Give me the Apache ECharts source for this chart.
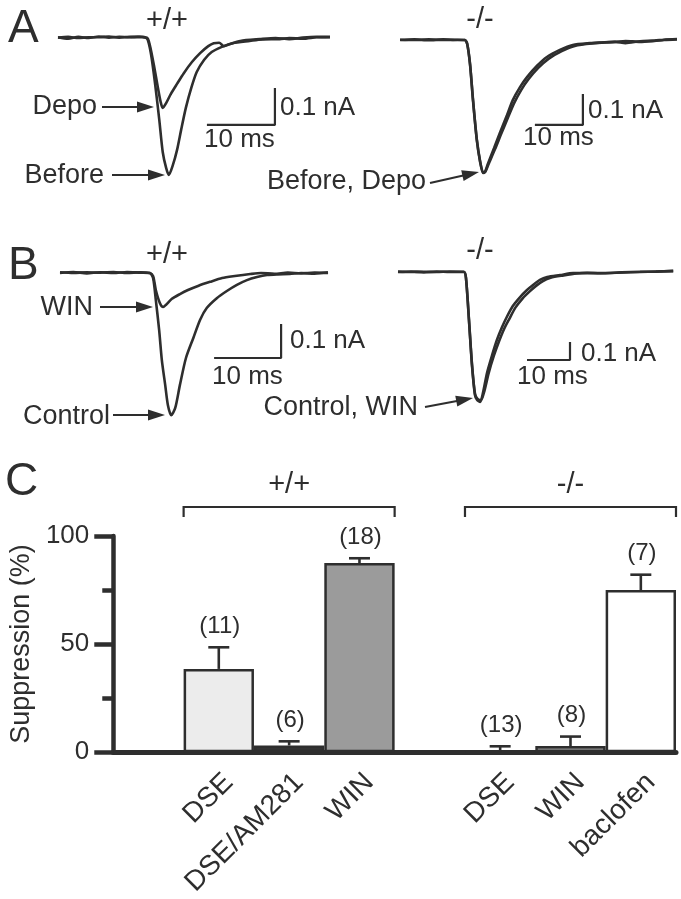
<!DOCTYPE html>
<html>
<head>
<meta charset="utf-8">
<script src="https://cdn.jsdelivr.net/npm/echarts@6/dist/echarts.min.js"></script>
<style>
html,body{margin:0;padding:0;background:#fff;}
#chart{width:681px;height:899px;}
</style>
</head>
<body>
<div id="chart"></div>
<script>
// ---------------- DATA ----------------
// Panel A, +/+ : time (ms), current (nA)
var aWtBefore = [[0,0.002],[1.5,-0.002],[3,0.003],[4.5,0],[6,0.004],[7.5,0.001],[9,0.003],[10.5,0.002],[12,0.004],[12.8,0.002],[13.2,-0.005],[13.7,-0.046],[14.3,-0.127],[14.9,-0.222],[15.4,-0.308],[15.9,-0.351],[16.3,-0.37],[16.9,-0.343],[17.5,-0.303],[18.1,-0.249],[18.8,-0.189],[19.6,-0.135],[20.4,-0.092],[21.5,-0.059],[22.6,-0.038],[24.1,-0.024],[25.7,-0.014],[28.2,-0.008],[30,-0.004],[32.6,-0.003],[34,0],[36,-0.002],[38,0.002],[40,0.003]];
var aWtDepo = [[0,0.001],[1.5,0.003],[3,0],[4.5,0.002],[6,0.002],[7.5,0.004],[9,0.001],[10.5,0.003],[12,0.002],[13.1,0.001],[13.5,-0.019],[14.1,-0.073],[14.7,-0.135],[15.1,-0.173],[15.4,-0.189],[15.9,-0.176],[16.6,-0.151],[17.5,-0.124],[18.5,-0.095],[19.7,-0.065],[20.9,-0.041],[22.1,-0.022],[22.9,-0.014],[23.7,-0.013],[24.4,-0.022],[25.3,-0.016],[26.8,-0.008],[29.7,-0.003],[32,0],[34,-0.003],[36,0.001],[38,0.003],[40,0.002]];
// Panel A, -/-
var aKoBefore = [[0,0],[3,0.002],[6,-0.001],[9,0.002],[12,0],[13.5,0],[14,-0.013],[14.6,-0.081],[15.2,-0.194],[16,-0.323],[16.7,-0.394],[17.3,-0.429],[17.7,-0.426],[18.3,-0.4],[19.6,-0.348],[20.8,-0.3],[22.3,-0.242],[23.5,-0.194],[25,-0.152],[26.5,-0.119],[28.5,-0.084],[30.6,-0.055],[33.3,-0.032],[36,-0.016],[39.6,-0.01],[42,-0.008],[44.8,-0.006],[47,-0.01],[50,-0.004],[53,-0.002],[55,0.001],[57.7,0.003]];
var aKoDepo = [[0,0.001],[3,0],[6,0.002],[9,0],[12,0.001],[13.5,0],[14,-0.012],[14.6,-0.078],[15.2,-0.19],[16,-0.32],[16.7,-0.392],[17.3,-0.427],[17.8,-0.424],[18.4,-0.402],[19.8,-0.352],[21,-0.306],[22.5,-0.25],[23.8,-0.203],[25.3,-0.16],[26.8,-0.126],[28.8,-0.09],[31,-0.06],[33.7,-0.036],[36.4,-0.019],[40,-0.011],[44.8,-0.006],[47,-0.003],[50,-0.006],[53,-0.003],[55,0],[57.7,0.002]];
// Panel B, +/+
var bWtControl = [[0,0],[2,0.003],[4,-0.001],[6,0.002],[8,0],[10,0.003],[12,0.001],[13.4,0],[13.9,-0.015],[14.3,-0.079],[14.8,-0.168],[15.2,-0.256],[15.7,-0.329],[16.1,-0.388],[16.6,-0.418],[17.2,-0.397],[17.9,-0.329],[18.8,-0.25],[19.9,-0.191],[20.9,-0.138],[21.9,-0.103],[23.4,-0.074],[24.9,-0.053],[26.4,-0.035],[27.9,-0.021],[29.4,-0.012],[30.9,-0.006],[32.5,-0.004],[34.3,-0.003],[36,0],[38,-0.002],[40,0.002]];
var bWtWin = [[0,0.002],[2,0],[4,0.002],[6,0.001],[8,0.003],[10,0],[12,0.002],[13.4,0],[13.9,-0.009],[14.3,-0.05],[14.9,-0.088],[15.4,-0.1],[15.8,-0.094],[16.7,-0.076],[17.9,-0.062],[19.1,-0.05],[20.6,-0.038],[22.4,-0.026],[24.2,-0.015],[26.1,-0.009],[28.4,-0.003],[30,0],[32,-0.002],[34,0.001],[36,-0.001],[38,0.001],[40,0]];
// Panel B, -/-
var bKoControl = [[0,0],[3,0.003],[6,-0.002],[9,0.002],[12,0],[15.3,0],[15.8,-0.033],[16.5,-0.267],[17.2,-0.517],[17.9,-0.683],[18.4,-0.711],[19.1,-0.722],[19.8,-0.667],[20.7,-0.561],[21.9,-0.461],[23,-0.378],[24.2,-0.306],[25.3,-0.25],[26.7,-0.189],[28.4,-0.139],[30,-0.1],[31.4,-0.072],[33,-0.044],[34.7,-0.028],[37.7,-0.017],[40.7,-0.006],[44,-0.006],[47,-0.006],[52,-0.003],[56.3,0],[60,0.003],[64,0.006]];
var bKoWin = [[0,0.002],[3,0],[6,0.001],[9,0],[12,0.002],[15.3,0.001],[15.8,-0.03],[16.5,-0.262],[17.2,-0.51],[17.9,-0.676],[18.5,-0.705],[19.3,-0.712],[20.1,-0.66],[21.1,-0.56],[22.3,-0.465],[23.5,-0.385],[24.7,-0.315],[25.9,-0.26],[27.3,-0.198],[29,-0.146],[30.7,-0.106],[32.1,-0.077],[33.7,-0.05],[35.5,-0.032],[38.5,-0.019],[41.5,-0.008],[44,-0.004],[47,-0.007],[52,-0.002],[56.3,0.001],[60,0.002],[64,0.005]];

// Panel C
var categories = ['', 'DSE', 'DSE/AM281', 'WIN', '', 'DSE', 'WIN', 'baclofen'];
var suppression = [null, 38.5, 3.1, 87.5, null, 0.3, 2.8, 75.0];
var sem = [null, 10.0, 1.9, 2.2, null, 2.4, 4.4, 7.1];
var nCells = [null, '(11)', '(6)', '(18)', null, '(13)', '(8)', '(7)'];
var yTicks = [0, 50, 100];

// ---------------- STYLE / LAYOUT ----------------
var FONT = '"Liberation Sans", Arial, Helvetica, sans-serif';
var INK = '#2e2e2e';
var barColors = [null, '#ececec', '#333333', '#9b9b9b', null, '#ffffff', '#8c8c8c', '#ffffff'];

var traceGrids = [
  {left: 58,  top: 26.9,  width: 272,   height: 159.1, xmax: 40, ymin: -0.40, ymax: 0.03},
  {left: 400, top: 30.7,  width: 278.4, height: 148.8, xmax: 58, ymin: -0.45, ymax: 0.03},
  {left: 60,  top: 262.8, width: 268,   height: 159.8, xmax: 40, ymin: -0.44, ymax: 0.03},
  {left: 398, top: 263,   width: 275.2, height: 144,   xmax: 64, ymin: -0.75, ymax: 0.05}
];
var traces = [
  {grid: 0, data: aWtBefore}, {grid: 0, data: aWtDepo},
  {grid: 1, data: aKoBefore}, {grid: 1, data: aKoDepo},
  {grid: 2, data: bWtControl}, {grid: 2, data: bWtWin},
  {grid: 3, data: bKoControl}, {grid: 3, data: bKoWin}
];
// scale bars: corner position (ms, nA), 10 ms x 0.1 nA
var scaleBars = [
  {grid: 0, t: 31.9, i: -0.235},
  {grid: 1, t: 38.1, i: -0.274},
  {grid: 2, t: 33.0, i: -0.25},
  {grid: 3, t: 40.0, i: -0.489}
];

var chart = echarts.init(document.getElementById('chart'), null, {renderer: 'canvas'});

var grids = [], xAxes = [], yAxes = [], series = [];
traceGrids.forEach(function (g, k) {
  grids.push({left: g.left, top: g.top, width: g.width, height: g.height, containLabel: false});
  xAxes.push({type: 'value', gridIndex: k, min: 0, max: g.xmax, show: false});
  yAxes.push({type: 'value', gridIndex: k, min: g.ymin, max: g.ymax, show: false});
});
traces.forEach(function (tr) {
  series.push({
    type: 'line', xAxisIndex: tr.grid, yAxisIndex: tr.grid, data: tr.data,
    showSymbol: false, symbol: 'none', clip: false, silent: true, smooth: 0.25,
    lineStyle: {color: INK, width: 2.6}
  });
});
scaleBars.forEach(function (s) {
  series.push({
    type: 'line', xAxisIndex: s.grid, yAxisIndex: s.grid,
    data: [[s.t - 10, s.i], [s.t, s.i], [s.t, s.i + 0.1]],
    showSymbol: false, symbol: 'none', clip: false, silent: true,
    lineStyle: {color: INK, width: 2.2}
  });
});

// bar chart grid
grids.push({left: 108, top: 536, width: 568, height: 227, containLabel: false});
xAxes.push({
  type: 'category', gridIndex: 4, data: categories,
  axisLine: {show: true, lineStyle: {color: INK, width: 5}},
  axisTick: {show: false},
  axisLabel: {
    interval: 0, rotate: 45, margin: 16, fontFamily: FONT, fontSize: 28, color: INK,
    align: 'right', verticalAlign: 'top', lineHeight: 28
  }
});
yAxes.push({
  type: 'value', gridIndex: 4, min: 0, max: 100, interval: 50,
  name: 'Suppression (%)', nameLocation: 'middle', nameGap: 75,
  nameTextStyle: {fontFamily: FONT, fontSize: 27, color: INK},
  axisLine: {show: true, lineStyle: {color: INK, width: 4.5}},
  axisTick: {show: true, length: 19, lineStyle: {color: INK, width: 4.5}},
  minorTick: {show: true, splitNumber: 2, length: 11, lineStyle: {color: INK, width: 4.5}},
  splitLine: {show: false}, minorSplitLine: {show: false},
  axisLabel: {margin: 24, fontFamily: FONT, fontSize: 26, color: INK,
    formatter: function (v) { return yTicks.indexOf(v) >= 0 ? String(v) : ''; }}
});
series.push({
  type: 'bar', xAxisIndex: 4, yAxisIndex: 4, barWidth: '100%', z: 3,
  data: suppression.map(function (v, i) {
    return v === null ? null : {value: v, itemStyle: {color: barColors[i], borderColor: INK, borderWidth: 2.5}};
  })
});
series.push({
  type: 'custom', xAxisIndex: 4, yAxisIndex: 4, z: 4,
  data: suppression.map(function (v, i) { return v === null ? [i, '-', '-'] : [i, v, v + sem[i]]; }),
  renderItem: function (params, api) {
    var i = api.value(0);
    if (suppression[i] === null) return null;
    var base = api.coord([i, api.value(1)]);
    var top = api.coord([i, api.value(2)]);
    var cw = 10.5;
    return {type: 'group', children: [
      {type: 'line', shape: {x1: base[0], y1: base[1], x2: top[0], y2: top[1]}, style: {stroke: INK, lineWidth: 2.6}},
      {type: 'line', shape: {x1: top[0] - cw, y1: top[1], x2: top[0] + cw, y2: top[1]}, style: {stroke: INK, lineWidth: 2.6}},
      {type: 'text', x: top[0] + 1, y: top[1] - 21, style: {text: nCells[i], font: '24px ' + FONT, fill: INK, align: 'center', verticalAlign: 'middle', textAlign: 'center', textVerticalAlign: 'middle'}}
    ]};
  }
});

// ---------------- ANNOTATIONS ----------------
function txt(s, x, y, size, align) {
  return {type: 'text', x: x, y: y, silent: true,
    style: {text: s, font: size + 'px ' + FONT, fill: INK, align: align || 'left', verticalAlign: 'middle', textAlign: align || 'left', textVerticalAlign: 'middle'}};
}
function arrow(x1, y1, x2, y2) {
  var dx = x2 - x1, dy = y2 - y1, L = Math.sqrt(dx * dx + dy * dy), ux = dx / L, uy = dy / L;
  var hl = 17, hw = 5.5;
  var bx = x2 - ux * hl, by = y2 - uy * hl;
  return [
    {type: 'line', silent: true, shape: {x1: x1, y1: y1, x2: bx + ux * 2, y2: by + uy * 2}, style: {stroke: INK, lineWidth: 2.2}},
    {type: 'polygon', silent: true, shape: {points: [[x2, y2], [bx - uy * hw, by + ux * hw], [bx + uy * hw, by - ux * hw]]}, style: {fill: INK}}
  ];
}
var labels = [
  txt('A', 8, 29, 46), txt('+/+', 167, 21, 29, 'center'), txt('-/-', 480, 20, 29, 'center'),
  txt('Depo', 97, 107, 27, 'right'), txt('Before', 104, 176, 27, 'right'),
  txt('0.1 nA', 280, 108, 26), txt('10 ms', 204, 140, 26),
  txt('0.1 nA', 588, 111, 26), txt('10 ms', 523, 138, 26),
  txt('Before, Depo', 426, 182, 27, 'right'),
  txt('B', 8, 266, 46), txt('+/+', 167, 255, 29, 'center'), txt('-/-', 480, 251, 29, 'center'),
  txt('WIN', 93, 308, 27, 'right'), txt('Control', 110, 417, 27, 'right'),
  txt('0.1 nA', 290, 341, 26), txt('10 ms', 212, 377, 26),
  txt('0.1 nA', 581, 354, 26), txt('10 ms', 517, 377, 26),
  txt('Control, WIN', 418, 408, 27, 'right'),
  txt('C', 5, 482, 46)
];
var arrows = [].concat(
  arrow(102, 107, 154, 107), arrow(112, 175, 165, 175),
  arrow(430, 183, 479, 172),
  arrow(100, 307, 153, 307), arrow(113, 415, 165, 415),
  arrow(425, 407, 473, 398)
);

chart.setOption({
  animation: false,
  backgroundColor: '#ffffff',
  grid: grids, xAxis: xAxes, yAxis: yAxes, series: series,
  graphic: {elements: labels.concat(arrows)}
});

// genotype brackets above groups, positioned from the category axis
function bracket(i0, i1, label) {
  var c0 = chart.convertToPixel({xAxisIndex: 4, yAxisIndex: 4}, [i0, 100]);
  var c1 = chart.convertToPixel({xAxisIndex: 4, yAxisIndex: 4}, [i1, 100]);
  var cNext = chart.convertToPixel({xAxisIndex: 4, yAxisIndex: 4}, [i0 + 1, 100]);
  var half = (cNext[0] - c0[0]) / 2;
  var xl = c0[0] - half, xr = c1[0] + half, yb = c0[1] - 29;
  return [
    {type: 'polyline', silent: true, shape: {points: [[xl, yb + 10], [xl, yb], [xr, yb], [xr, yb + 10]]}, style: {stroke: INK, lineWidth: 2.2, fill: null}},
    txt(label, (xl + xr) / 2, yb - 22, 29, 'center')
  ];
}
chart.setOption({graphic: {elements: labels.concat(arrows, bracket(1, 3, '+/+'), bracket(5, 7, '-/-'))}});
</script>
</body>
</html>
